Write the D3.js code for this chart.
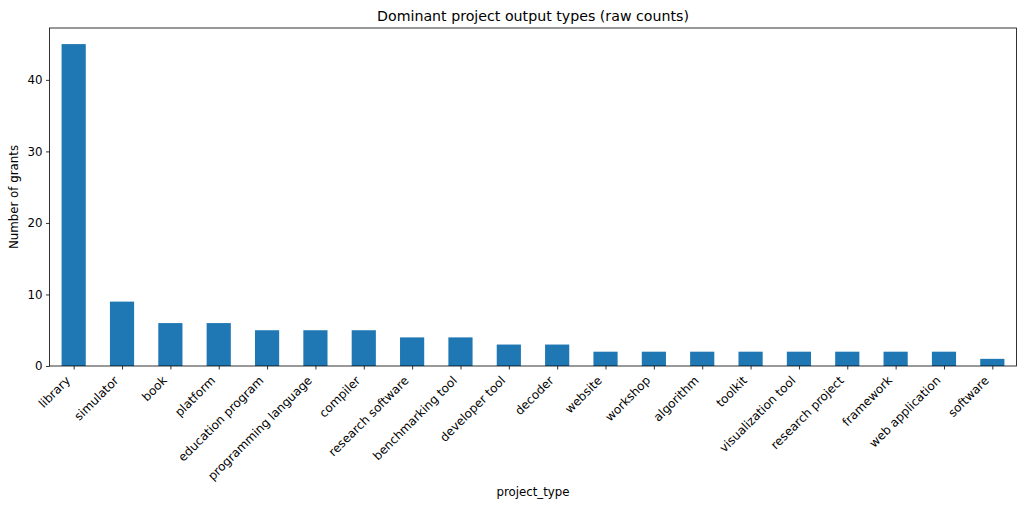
<!DOCTYPE html>
<html>
<head>
<meta charset="utf-8">
<script src="https://cdn.jsdelivr.net/npm/d3@7"></script>
<style>
  body { margin: 0; background: #fff; }
  text { font-family: "DejaVu Sans", sans-serif; fill: #000; }
</style>
</head>
<body>
<script>
// chart data
const projectTypes = ["library", "simulator", "book", "platform", "education program",
  "programming language", "compiler", "research software", "benchmarking tool",
  "developer tool", "decoder", "website", "workshop", "algorithm", "toolkit",
  "visualization tool", "research project", "framework", "web application", "software"];
const grantCounts = [45, 9, 6, 6, 5, 5, 5, 4, 4, 3, 3, 2, 2, 2, 2, 2, 2, 2, 2, 1];
const yTicks = [0, 10, 20, 30, 40];

const w = 1024;
const h = 508;
const mLeft = 49.5, mRight = 1016.5, mTop = 28, mBottom = 366;

let svg = d3.select("body")
            .append("svg")
            .attr("width", w)
            .attr("height", h);

// pandas-like: xlim -0.5..n-0.5, bar width 0.5
let x = d3.scaleLinear()
          .domain([-0.5, projectTypes.length - 0.5])
          .range([mLeft, mRight]);

let y = d3.scaleLinear()
          .domain([0, d3.max(grantCounts) * 1.05])
          .range([mBottom, mTop]);

svg.selectAll("rect.bar")
   .data(grantCounts)
   .enter()
   .append("rect")
   .attr("class", "bar")
   .attr("x", (d, i) => x(i - 0.25))
   .attr("width", x(0.25) - x(-0.25))
   .attr("y", (d) => y(d))
   .attr("height", (d) => y(0) - y(d))
   .attr("fill", "#1f77b4");

// y axis
let yAxis = svg.append("g")
   .attr("transform", "translate(" + mLeft + ",0)")
   .call(d3.axisLeft(y).tickValues(yTicks).tickSize(3.5).tickPadding(3.5));
yAxis.select(".domain").remove();
yAxis.selectAll("text").style("font-size", "11.8px").style("font-family", "DejaVu Sans");
yAxis.selectAll("line").attr("stroke", "#000").attr("stroke-width", 0.8);

// x axis, labels rotated 45deg with their end at the tick
let xAxis = svg.append("g")
   .attr("transform", "translate(0," + mBottom + ")")
   .call(d3.axisBottom(x).tickValues(d3.range(projectTypes.length))
           .tickFormat((i) => projectTypes[i]).tickSize(3.5));
xAxis.select(".domain").remove();
xAxis.selectAll("line").attr("stroke", "#000").attr("stroke-width", 0.8);
xAxis.selectAll("text")
     .style("font-size", "12px")
     .style("font-family", "DejaVu Sans")
     .attr("text-anchor", "end")
     .attr("x", -13)
     .attr("y", 8.5)
     .attr("dy", 0)
     .attr("transform", "rotate(-45)");

// frame
svg.append("rect")
   .attr("x", mLeft)
   .attr("y", mTop)
   .attr("width", mRight - mLeft)
   .attr("height", mBottom - mTop)
   .attr("fill", "none")
   .attr("stroke", "#000")
   .attr("stroke-width", 0.8);

svg.append("text")
   .attr("x", (mLeft + mRight) / 2)
   .attr("y", 20.5)
   .attr("text-anchor", "middle")
   .style("font-size", "14.2px")
   .text("Dominant project output types (raw counts)");

svg.append("text")
   .attr("x", (mLeft + mRight) / 2)
   .attr("y", 496)
   .attr("text-anchor", "middle")
   .style("font-size", "11.8px")
   .text("project_type");

svg.append("text")
   .attr("transform", "translate(18," + (mTop + mBottom) / 2 + ") rotate(-90)")
   .attr("text-anchor", "middle")
   .style("font-size", "11.8px")
   .text("Number of grants");
</script>
</body>
</html>
